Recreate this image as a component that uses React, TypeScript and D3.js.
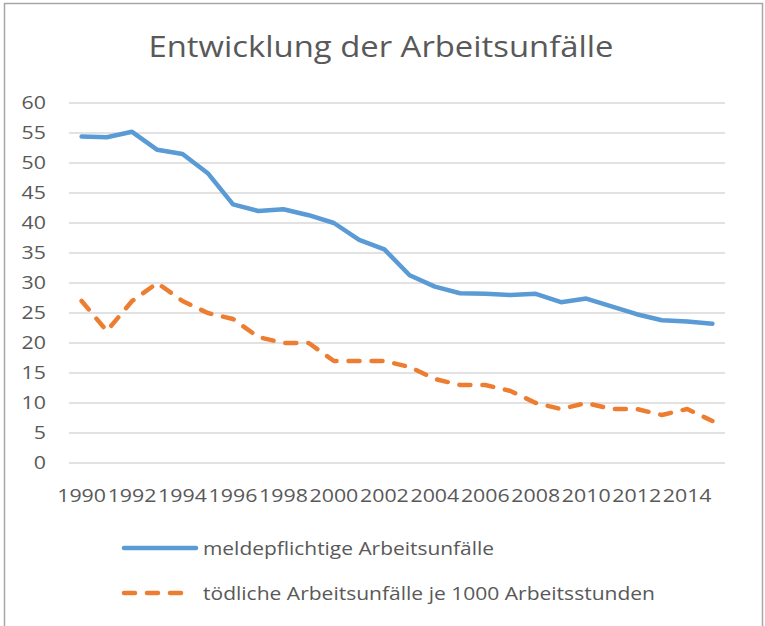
import React, { useRef, useEffect } from "react";
import * as d3 from "d3";

const width = 765;
const height = 626;
const margin = { left: 69, right: 40, top: 103, bottom: 163 }; // plot area inside the frame
const fontFamily = "'Open Sans', 'Noto Sans', sans-serif";
const textColor = "#595959";
const gridColor = "#d9d9d9";
const digitWidth = 12.2; // the reference digits run wide

const title = "Entwicklung der Arbeitsunfälle";
const years = d3.range(1990, 2016).map(String);
const reportable = [
  54.4, 54.3, 55.2, 52.2, 51.5, 48.3, 43.1, 42.0, 42.3, 41.3, 40.0, 37.2, 35.6,
  31.3, 29.4, 28.3, 28.2, 28.0, 28.2, 26.8, 27.4, 26.1, 24.8, 23.8, 23.6, 23.2,
];
const fatal = [
  27, 22, 27, 30, 27, 25, 24, 21, 20, 20, 17, 17, 17, 16, 14, 13, 13, 12, 10, 9,
  10, 9, 9, 8, 9, 7,
];
const yTicks = [0, 5, 10, 15, 20, 25, 30, 35, 40, 45, 50, 55, 60];
const seriesNames = [
  "meldepflichtige Arbeitsunfälle",
  "tödliche Arbeitsunfälle je 1000 Arbeitsstunden",
];
const legendWidths = [291, 452];
const seriesColors = ["#5b9bd5", "#ed7d31"];
const seriesDash = [null, "11,12"];

const App = () => {
  const container = useRef<SVGSVGElement>(null);

  useEffect(() => {
    if (!container.current) return;
    const svg = d3.select(container.current);
    svg.selectAll("*").remove();

    const x = d3
      .scaleBand()
      .domain(years)
      .range([margin.left, width - margin.right])
      .padding(0);
    const y = d3
      .scaleLinear()
      .domain([0, 60])
      .range([height - margin.bottom, margin.top]);
    const cx = (yr: string) => (x(yr) as number) + x.bandwidth() / 2;

    // frame
    svg
      .append("rect")
      .attr("x", 4.5)
      .attr("y", 3.5)
      .attr("width", 758)
      .attr("height", 640)
      .attr("fill", "#fff")
      .attr("stroke", "#a6a6a6")
      .attr("stroke-width", 1.5);

    svg
      .append("text")
      .attr("x", 381)
      .attr("y", 57)
      .attr("text-anchor", "middle")
      .attr("font-family", fontFamily)
      .attr("font-size", 29)
      .attr("fill", textColor)
      .attr("textLength", 465)
      .attr("lengthAdjust", "spacingAndGlyphs")
      .text(title);

    // grid + y labels
    const grid = svg.append("g");
    grid
      .selectAll("line")
      .data(yTicks)
      .enter()
      .append("line")
      .attr("x1", margin.left)
      .attr("x2", width - margin.right)
      .attr("y1", (d) => y(d))
      .attr("y2", (d) => y(d))
      .attr("stroke", gridColor)
      .attr("stroke-width", 1.5);
    grid
      .selectAll("text")
      .data(yTicks)
      .enter()
      .append("text")
      .attr("x", 46)
      .attr("y", (d) => y(d))
      .attr("dy", "0.36em")
      .attr("text-anchor", "end")
      .attr("font-family", fontFamily)
      .attr("font-size", 18)
      .attr("fill", textColor)
      .attr("textLength", (d) => String(d).length * digitWidth)
      .attr("lengthAdjust", "spacingAndGlyphs")
      .text((d) => d);

    // x labels, every second year
    svg
      .append("g")
      .selectAll("text")
      .data(years.filter((_, i) => i % 2 === 0))
      .enter()
      .append("text")
      .attr("x", (d) => cx(d))
      .attr("y", 502)
      .attr("text-anchor", "middle")
      .attr("font-family", fontFamily)
      .attr("font-size", 18)
      .attr("fill", textColor)
      .attr("textLength", 4 * digitWidth)
      .attr("lengthAdjust", "spacingAndGlyphs")
      .text((d) => d);

    const line = d3
      .line<number>()
      .x((_, i) => cx(years[i]))
      .y((d) => y(d));

    [reportable, fatal].forEach((values, i) => {
      svg
        .append("path")
        .attr("d", line(values))
        .attr("fill", "none")
        .attr("stroke", seriesColors[i])
        .attr("stroke-width", 4.5)
        .attr("stroke-linecap", "round")
        .attr("stroke-linejoin", "round")
        .attr("stroke-dasharray", seriesDash[i]);
    });

    // legend
    const legend = svg
      .append("g")
      .selectAll("g")
      .data(seriesNames)
      .enter()
      .append("g")
      .attr("transform", (_, i) => `translate(124, ${548 + i * 45})`);
    legend
      .append("line")
      .attr("x1", 0)
      .attr("x2", (_, i) => (i === 0 ? 72 : 62))
      .attr("stroke", (_, i) => seriesColors[i])
      .attr("stroke-width", 4.5)
      .attr("stroke-linecap", "round")
      .attr("stroke-dasharray", (_, i) => seriesDash[i]);
    legend
      .append("text")
      .attr("x", 79)
      .attr("dy", "0.36em")
      .attr("font-family", fontFamily)
      .attr("font-size", 19)
      .attr("fill", textColor)
      .attr("textLength", (_, i) => legendWidths[i])
      .attr("lengthAdjust", "spacingAndGlyphs")
      .text((d) => d);
  }, []);

  return (
    <svg
      ref={container}
      width={width}
      height={height}
      style={{ position: "absolute", left: 0, top: 0 }}
    ></svg>
  );
};

export default App;
